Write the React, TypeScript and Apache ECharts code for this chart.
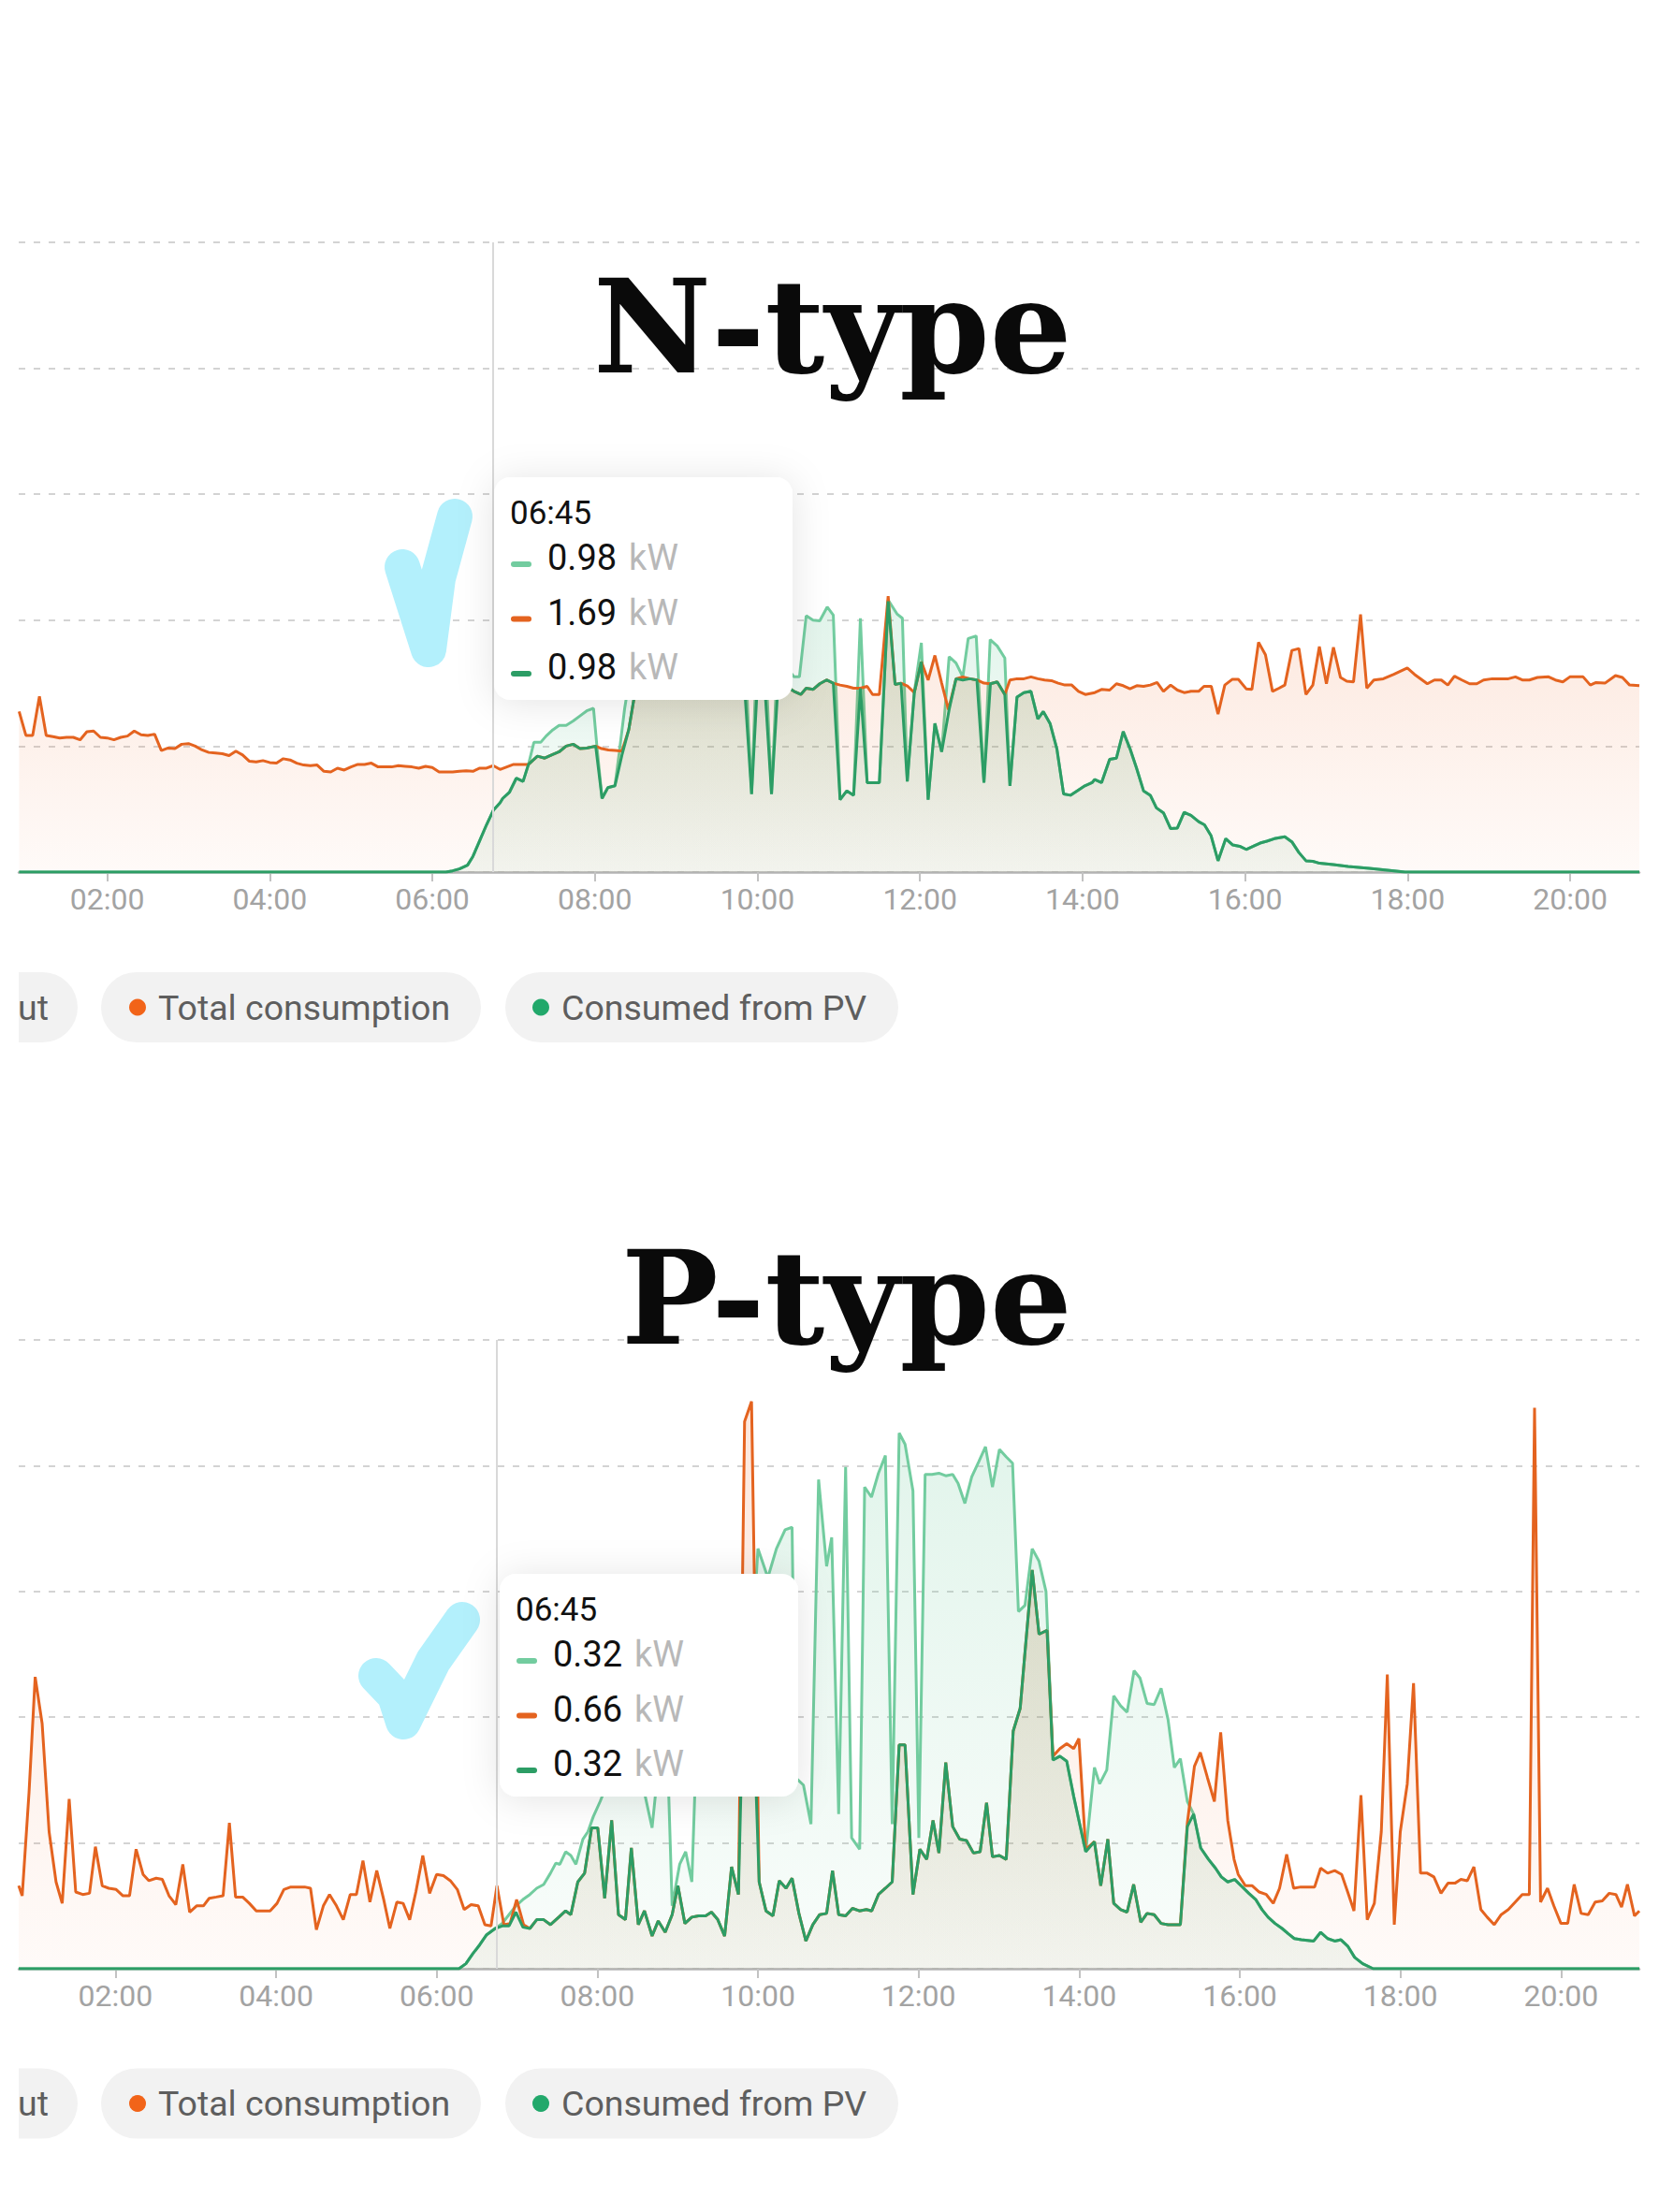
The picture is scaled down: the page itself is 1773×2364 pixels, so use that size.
import React, { useEffect, useRef } from "react";
import * as echarts from "echarts";

// ---------- data (minutes of day, kW) ----------
const hourTicks = [120, 240, 360, 480, 600, 720, 840, 960, 1080, 1200];
const seriesNames = ["PV output", "Total consumption", "Consumed from PV"];
const titles = ["N-type", "P-type"];
const tipTime = "06:45";
const nTip = ["0.98", "1.69", "0.98"];
const pTip = ["0.32", "0.66", "0.32"];

const nTotal: [number, number][] = [
  [55,2.55],[60,2.17],[65,2.17],[70,2.79],[75,2.17],[80,2.15],[85,2.13],[90,2.14],[95,2.14],[100,2.10],[105,2.23],[110,2.24],[115,2.14],[120,2.13],[125,2.10],[130,2.14],[135,2.16],[140,2.24],[145,2.18],[150,2.17],[155,2.19],[160,1.93],[165,1.97],[170,1.96],[175,2.03],[180,2.04],[185,2.00],[190,1.94],[195,1.90],[200,1.89],[205,1.88],[210,1.85],[215,1.92],[220,1.86],[225,1.76],[230,1.75],[235,1.77],[240,1.74],[245,1.73],[250,1.80],[255,1.78],[260,1.73],[265,1.70],[270,1.69],[275,1.70],[280,1.60],[285,1.59],[290,1.65],[295,1.62],[300,1.67],[305,1.71],[310,1.71],[315,1.73],[320,1.67],[325,1.67],[330,1.67],[335,1.69],[340,1.68],[345,1.67],[350,1.65],[355,1.68],[360,1.66],[365,1.59],[370,1.59],[375,1.59],[380,1.60],[385,1.61],[390,1.60],[395,1.65],[400,1.65],[405,1.69],[410,1.63],[415,1.67],[420,1.71],[425,1.71],[431,1.71],[437.6,1.84],[443,1.81],[448,1.86],[453.6,1.91],[458.8,2.0],[464,2.03],[469,1.96],[474,1.97],[480.6,2.0],[485,1.96],[490,1.94],[495,1.93],[500,1.92],[505,2.26],[510,2.9],[515,3.1],[520,3.0],[525,3.2],[530,3.1],[540,3.0],[550,3.2],[560,3.3],[570,3.1],[580,3.2],[590,3.1],[595.7,3.05],[600,3.0],[605,3.1],[610.4,3.0],[615,2.9],[621,2.95],[627,2.87],[632,2.82],[636,2.92],[641,2.90],[646,2.99],[651,3.05],[656,3.0],[661,2.97],[666,2.95],[671,2.92],[676,2.92],[681,2.95],[685,2.82],[690,2.82],[696.5,4.38],[701.6,2.98],[706,3.0],[711,2.95],[715.8,2.85],[721,3.34],[726,3.05],[731,3.44],[736,3.0],[741,2.58],[746.6,3.07],[751.6,3.10],[756.8,3.07],[762,3.05],[767.2,3.0],[772,2.99],[777,3.02],[782.6,2.82],[786.4,3.05],[791.6,3.07],[796.7,3.07],[801.9,3.1],[807,3.07],[812,3.05],[817,3.04],[822,3.0],[827,2.97],[832,2.97],[837,2.87],[842,2.82],[849,2.85],[854,2.90],[860,2.89],[865,2.99],[870,2.96],[875,2.91],[880,2.96],[885,2.95],[890,2.97],[895,3.01],[899.7,2.87],[905,2.97],[910,2.89],[915,2.85],[920,2.87],[925.7,2.87],[929.6,2.95],[935,2.95],[940,2.51],[945,2.97],[950.4,3.06],[955,3.06],[960.8,2.91],[965,2.90],[969.9,3.65],[975,3.45],[980.2,2.87],[985,2.92],[989.3,2.97],[994.5,3.52],[999.7,3.55],[1004.9,2.82],[1010,2.97],[1014.8,3.58],[1020,2.99],[1025.2,3.57],[1030.4,3.09],[1035,3.03],[1040,3.02],[1045.2,4.09],[1049.8,2.92],[1055,3.05],[1062,3.07],[1069.8,3.14],[1079.7,3.24],[1085,3.14],[1094.5,2.99],[1099.7,3.05],[1104.8,3.05],[1109.6,2.97],[1114.5,3.11],[1120,3.05],[1125.7,2.99],[1131,2.99],[1136,3.05],[1142.5,3.07],[1154.3,3.07],[1159.5,3.10],[1164.6,3.05],[1169.8,3.05],[1175.8,3.09],[1184,3.10],[1189,3.05],[1194.5,3.02],[1199.7,3.10],[1209.5,3.10],[1214.8,2.97],[1219,3.01],[1225.6,3.0],[1233.4,3.12],[1238.5,3.09],[1243.8,2.97],[1251,2.96]
];

const nSelf: [number, number][] = [
  [55,0],[370,0],[375,0.02],[380,0.05],[386,0.11],[390,0.25],[395,0.50],[400,0.75],[405,0.98],[410,1.10],[412,1.17],[417,1.27],[422,1.49],[427,1.44],[431,1.71],[437.6,1.84],[443,1.81],[448,1.86],[453.6,1.91],[458.8,2.0],[464,2.03],[469,1.96],[474,1.97],[480.6,2.0],[485.3,1.17],[489.6,1.34],[494.8,1.37],[500,1.86],[505,2.26],[510,2.9],[515,3.1],[520,3.0],[525,3.2],[530,3.1],[540,3.0],[550,3.2],[560,3.3],[570,3.1],[580,3.2],[590,3.1],[595.7,1.24],[600,3.0],[605,3.1],[610.4,1.24],[615,2.9],[621,2.95],[627,2.87],[632,2.82],[636,2.92],[641,2.90],[646,2.99],[651,3.05],[656,3.0],[661,1.15],[666,1.29],[671,1.22],[676,2.92],[681,1.42],[690,1.42],[696.5,4.3],[701.6,2.98],[706,3.0],[710.6,1.44],[715.8,2.85],[721,3.34],[726,1.15],[731,2.36],[736,1.91],[741.5,2.58],[746.6,3.07],[751.6,3.05],[756.8,3.07],[762,3.05],[767.2,1.42],[772,2.99],[777,3.02],[782.6,2.82],[786.4,1.37],[791.6,2.78],[796.7,2.85],[801.9,2.87],[807,2.43],[811,2.55],[816,2.36],[821,1.96],[826,1.24],[831,1.22],[836,1.29],[841.7,1.37],[847,1.42],[849,1.47],[854,1.42],[860,1.79],[865,1.81],[870,2.23],[875,1.96],[879.7,1.66],[885,1.29],[890,1.22],[894.5,1.02],[899.7,0.94],[905,0.69],[910,0.70],[915,0.95],[920,0.90],[925.7,0.80],[930,0.75],[934.8,0.58],[940,0.18],[945.7,0.53],[950.9,0.43],[956,0.41],[960.8,0.36],[966,0.41],[971,0.46],[976,0.49],[981.5,0.53],[989.3,0.56],[994.5,0.48],[999.7,0.31],[1004.9,0.18],[1010,0.17],[1015,0.14],[1025,0.12],[1036,0.09],[1051.7,0.06],[1070,0.02],[1078,0],[1251,0]
];

const nPV: [number, number][] = [
  [55,0],[370,0],[375,0.02],[380,0.05],[386,0.11],[390,0.25],[395,0.50],[400,0.75],[405,0.98],[410,1.10],[412,1.17],[417,1.27],[422,1.49],[427,1.44],[431,1.71],[435,2.06],[440,2.06],[444,2.16],[449,2.26],[453.6,2.33],[458.8,2.33],[464,2.40],[469,2.48],[474,2.56],[479,2.60],[481.5,2.0],[485.3,1.17],[489.6,1.34],[494.8,1.37],[498,1.9],[502,2.6],[505,3.0],[510,3.6],[520,3.8],[530,4.0],[540,3.7],[550,4.1],[560,4.3],[570,4.0],[580,4.2],[590,3.9],[595.7,1.24],[600,3.8],[605,3.9],[610.4,1.24],[615,3.5],[620,3.3],[627,3.10],[631,3.10],[636,4.07],[641,4.0],[646,3.99],[651.5,4.21],[656,4.08],[661,1.15],[666,1.29],[671,1.22],[676,4.03],[681,1.42],[690,1.42],[696.5,4.32],[703,4.1],[707,4.03],[710.6,1.44],[715.8,2.86],[721,3.64],[726,1.15],[731,2.36],[736,1.91],[741.5,3.42],[746.6,3.32],[751.6,3.10],[755.6,3.71],[761.5,3.75],[767.2,1.42],[771.8,3.69],[777,3.59],[782.6,3.40],[786.4,1.37],[791.6,2.78],[796.7,2.85],[801.9,2.87],[807,2.43],[811,2.55],[816,2.36],[821,1.96],[826,1.24],[831,1.22],[836,1.29],[841.7,1.37],[847,1.42],[849,1.47],[854,1.42],[860,1.79],[865,1.81],[870,2.23],[875,1.96],[879.7,1.66],[885,1.29],[890,1.22],[894.5,1.02],[899.7,0.94],[905,0.69],[910,0.70],[915,0.95],[920,0.90],[925.7,0.80],[930,0.75],[934.8,0.58],[940,0.18],[945.7,0.53],[950.9,0.43],[956,0.41],[960.8,0.36],[966,0.41],[971,0.46],[976,0.49],[981.5,0.53],[989.3,0.56],[994.5,0.48],[999.7,0.31],[1004.9,0.18],[1010,0.17],[1015,0.14],[1025,0.12],[1036,0.09],[1051.7,0.06],[1070,0.02],[1078,0],[1251,0]
];

const pTotal: [number, number][] = [
  [47.7,0.66],[50.3,0.58],[55.4,1.40],[60,2.32],[65.2,1.95],[70.4,1.09],[75.6,0.69],[80.2,0.52],[85.4,1.35],[90.3,0.61],[95.5,0.59],[100.6,0.60],[105,0.97],[110.1,0.66],[115,0.64],[120.5,0.63],[125.6,0.58],[130.5,0.58],[135.4,0.95],[140.6,0.75],[145,0.70],[150.4,0.72],[155,0.71],[160,0.58],[165.1,0.51],[170.3,0.83],[175.4,0.45],[180.6,0.50],[185.7,0.50],[190,0.56],[195.3,0.57],[200.4,0.58],[205.1,1.16],[209.7,0.57],[215,0.57],[220,0.52],[225.2,0.46],[230.4,0.46],[235.5,0.46],[240.7,0.52],[245.8,0.63],[251,0.65],[256.2,0.65],[261.3,0.65],[265.7,0.64],[270.1,0.31],[275.3,0.50],[279.9,0.59],[285.1,0.50],[290.2,0.39],[295.4,0.59],[300,0.59],[304.9,0.86],[310.1,0.53],[315.2,0.78],[320.4,0.55],[325,0.32],[330.2,0.53],[334.9,0.52],[339.8,0.39],[344.4,0.61],[349.6,0.90],[354.7,0.60],[359.9,0.75],[365,0.74],[370.2,0.70],[375.4,0.63],[380.5,0.47],[385.7,0.51],[391,0.50],[396,0.35],[400.6,0.34],[405,0.66],[410.2,0.35],[414.8,0.36],[419.7,0.55],[424.9,0.35],[429.6,0.32],[434.7,0.39],[439.9,0.39],[445,0.35],[451.2,0.41],[456.3,0.46],[460.2,0.43],[465.4,0.69],[470.5,0.76],[475.7,1.12],[480.3,1.12],[485.5,0.56],[490.7,1.18],[495.8,0.43],[501,0.39],[505.4,0.96],[510.6,0.35],[515.2,0.46],[520.9,0.26],[525.5,0.38],[530.7,0.29],[535.9,0.43],[540.2,0.66],[545.4,0.36],[550.6,0.41],[555.7,0.42],[560.9,0.42],[565.3,0.45],[570,0.39],[575.1,0.26],[580.3,0.81],[585.4,0.59],[590,4.35],[595.2,4.51],[600.9,0.69],[606,0.46],[611.2,0.42],[615.9,0.70],[621,0.64],[625.5,0.72],[630.6,0.44],[635.8,0.22],[641,0.35],[646.1,0.43],[651.3,0.44],[655.7,0.78],[660.3,0.43],[665.5,0.42],[670.6,0.48],[675.8,0.46],[681,0.47],[685,0.46],[690,0.59],[695.2,0.64],[700.3,0.69],[705.5,1.78],[709.9,1.78],[715.8,0.59],[721,0.95],[726.1,0.87],[730.8,1.18],[735.2,0.92],[740.3,1.64],[745.5,1.13],[750.7,1.03],[755.8,1.02],[761,0.92],[766,0.93],[770.8,1.32],[775.2,0.89],[780.4,0.90],[785.5,0.87],[790.7,1.89],[795.9,2.07],[799.7,2.54],[804.9,3.17],[810,2.66],[816,2.69],[820.4,1.69],[825.6,1.75],[830.7,1.79],[835.9,1.75],[839.8,1.83],[844.9,0.95],[851.4,1.01],[856.1,0.66],[861.4,1.03],[865.8,0.52],[871,0.47],[875.8,0.45],[880.7,0.67],[886,0.37],[890.7,0.44],[896,0.43],[901.2,0.36],[906.4,0.35],[911,0.35],[915.6,0.35],[920.8,1.16],[926.1,1.61],[930.5,1.72],[935.8,1.52],[941,1.33],[945.7,1.88],[951,1.18],[955.7,0.87],[958.8,0.75],[964.1,0.66],[969.3,0.66],[974.5,0.61],[979.8,0.59],[985,0.52],[989.7,0.64],[995,0.91],[1000.2,0.64],[1005.5,0.65],[1010.7,0.65],[1015.9,0.65],[1020.4,0.80],[1025.6,0.76],[1030.9,0.78],[1036.1,0.75],[1040.6,0.61],[1045.3,0.46],[1050.5,1.38],[1055.2,0.39],[1060.5,0.52],[1065.7,1.09],[1070.2,2.34],[1075.4,0.35],[1079.9,1.09],[1085.1,1.47],[1089.8,2.27],[1095,0.76],[1100,0.76],[1105,0.73],[1110.3,0.60],[1115.5,0.68],[1120.7,0.68],[1125.2,0.71],[1130,0.70],[1134.9,0.81],[1140.1,0.47],[1144.8,0.41],[1150.1,0.35],[1155.3,0.43],[1160.6,0.47],[1165.8,0.53],[1171,0.59],[1176.3,0.59],[1180.2,4.46],[1184.7,0.53],[1189.9,0.64],[1194.6,0.50],[1199.9,0.36],[1205,0.36],[1209.8,0.67],[1215,0.44],[1220.3,0.43],[1225.5,0.53],[1230.8,0.54],[1236,0.60],[1241,0.59],[1245.2,0.49],[1249.6,0.67],[1254.9,0.42],[1258.5,0.46]
];

const pSelf: [number, number][] = [
  [47.7,0],[376.6,0],[381.8,0.04],[387,0.12],[392.1,0.19],[397.3,0.27],[403.7,0.32],[408.9,0.34],[414,0.34],[419.2,0.45],[424.4,0.33],[429.6,0.32],[434.7,0.39],[439.9,0.39],[445,0.35],[451.2,0.41],[456.3,0.46],[460.2,0.43],[465.4,0.69],[470.5,0.76],[475.7,1.12],[480.3,1.12],[485.5,0.56],[490.7,1.18],[495.8,0.43],[501,0.39],[505.4,0.96],[510.6,0.35],[515.2,0.46],[520.9,0.26],[525.5,0.38],[530.7,0.29],[535.9,0.43],[540.2,0.66],[545.4,0.36],[550.6,0.41],[555.7,0.42],[560.9,0.42],[565.3,0.45],[570,0.39],[575.1,0.26],[580.3,0.81],[585.4,0.59],[590,2.6],[595.2,2.5],[600.9,0.69],[606,0.46],[611.2,0.42],[615.9,0.70],[621,0.64],[625.5,0.72],[630.6,0.44],[635.8,0.22],[641,0.35],[646.1,0.43],[651.3,0.44],[655.7,0.78],[660.3,0.43],[665.5,0.42],[670.6,0.48],[675.8,0.46],[681,0.47],[685,0.46],[690,0.59],[695.2,0.64],[700.3,0.69],[705.5,1.78],[709.9,1.78],[715.8,0.59],[721,0.95],[726.1,0.87],[730.8,1.18],[735.2,0.92],[740.3,1.64],[745.5,1.13],[750.7,1.03],[755.8,1.02],[761,0.92],[766,0.93],[770.8,1.32],[775.2,0.89],[780.4,0.90],[785.5,0.87],[790.7,1.89],[795.9,2.07],[799.7,2.54],[804.9,3.17],[810,2.66],[816,2.69],[820.4,1.66],[825.6,1.69],[830.7,1.65],[835.9,1.37],[841,1.12],[844.9,0.93],[851.4,1.01],[856.1,0.66],[861.4,1.03],[865.8,0.52],[871,0.47],[875.8,0.45],[880.7,0.67],[886,0.37],[890.7,0.44],[896,0.43],[901.2,0.36],[906.4,0.35],[911,0.35],[915.6,0.35],[920.8,1.13],[925.5,1.23],[930.8,0.96],[936.6,0.87],[941.8,0.80],[946.2,0.73],[951,0.69],[956.2,0.71],[960.9,0.66],[966.7,0.60],[971.9,0.55],[976.6,0.47],[981.1,0.41],[986.3,0.36],[991.6,0.32],[996,0.28],[1000.7,0.24],[1005.9,0.23],[1015.2,0.22],[1020.4,0.29],[1025.6,0.24],[1030.9,0.22],[1035.6,0.23],[1040.6,0.18],[1045.8,0.09],[1051.8,0.04],[1059.7,0],[1258.5,0]
];

const pPV: [number, number][] = [
  [47.7,0],[376.6,0],[381.8,0.04],[387,0.12],[392.1,0.19],[397.3,0.27],[403.7,0.32],[408.9,0.36],[414,0.43],[419.2,0.50],[424.4,0.55],[429.6,0.59],[434.7,0.64],[439.9,0.67],[445,0.76],[449,0.84],[452,0.83],[456.3,0.93],[460.2,0.90],[464,0.83],[469.2,1.03],[473,1.09],[477,1.21],[482.1,1.33],[484.7,1.40],[490,2.0],[495,2.5],[500,2.2],[505,2.7],[510,1.8],[515.2,1.40],[520.9,1.12],[525.5,1.6],[530.7,2.3],[535.9,0.50],[541.5,0.83],[546,0.93],[550.6,0.69],[556,2.4],[561,2.8],[566,2.6],[571,2.9],[576,2.5],[581,2.7],[585.4,2.2],[590,2.6],[595.2,2.5],[600,3.34],[607.4,3.11],[613.8,3.34],[620.3,3.49],[625.5,3.51],[628,1.52],[634,1.46],[639.6,1.15],[645.3,3.89],[651.3,3.20],[655.1,3.43],[660.3,1.23],[665.5,3.99],[670,1.04],[676,0.95],[679.7,3.83],[684.8,3.75],[690,3.94],[695.2,4.08],[700.3,1.15],[705.5,4.26],[709.9,4.17],[715.8,3.80],[720.2,1.04],[724.9,3.93],[730,3.93],[735.2,3.94],[740.3,3.92],[745.5,3.93],[749.5,3.86],[754.6,3.70],[759.7,3.91],[764.9,4.03],[770,4.15],[775.2,3.83],[780.4,4.13],[785.5,4.07],[790.2,4.02],[794.6,2.84],[799.5,2.89],[804.9,3.34],[810,3.24],[815.2,3.0],[820.4,1.66],[825.6,1.69],[830.7,1.65],[835.9,1.37],[841,1.12],[844.9,0.93],[851.4,1.60],[855.3,1.47],[860.6,1.58],[865.8,2.17],[871,2.09],[875.8,2.04],[881,2.37],[885.5,2.31],[890.7,2.11],[896,2.10],[901.2,2.23],[906.4,1.98],[911.1,1.60],[915.6,1.67],[920.8,1.33],[925.5,1.23],[930.8,0.96],[936.6,0.87],[941.8,0.80],[946.2,0.73],[951,0.69],[956.2,0.71],[960.9,0.66],[966.7,0.60],[971.9,0.55],[976.6,0.47],[981.1,0.41],[986.3,0.36],[991.6,0.32],[996,0.28],[1000.7,0.24],[1005.9,0.23],[1015.2,0.22],[1020.4,0.29],[1025.6,0.24],[1030.9,0.22],[1035.6,0.23],[1040.6,0.18],[1045.8,0.09],[1051.8,0.04],[1059.7,0],[1258.5,0]
];

// ---------- styling ----------
const C_PV = "#72cc9f";
const C_TOTAL = "#e4631f";
const C_SELF = "#2c9d65";
const UI_FONT = "Roboto";
const TOP_Z = 150;

const fmt = (m: number) => {
  const h = Math.floor(m / 60);
  const mm = Math.round(m % 60);
  return `${String(h).padStart(2, "0")}:${String(mm).padStart(2, "0")}`;
};

const grad = (top: string, bottom: string) =>
  new echarts.graphic.LinearGradient(0, 0, 0, 1, [
    { offset: 0, color: top },
    { offset: 1, color: bottom },
  ]);

const mkX = (gi: number, min: number, max: number) => ({
  type: "value",
  gridIndex: gi,
  min,
  max,
  axisLine: { show: true, onZero: false, lineStyle: { color: "#b3b3b3", width: 2.5 } },
  axisTick: { show: true, customValues: hourTicks, length: 10, lineStyle: { color: "#c2c2c2", width: 2 } },
  axisLabel: {
    show: true,
    customValues: hourTicks,
    formatter: (v: number) => fmt(v),
    color: "#a3a3a3",
    fontSize: 32,
    fontFamily: UI_FONT,
    margin: 13,
  },
  splitLine: { show: false },
});

const mkY = (gi: number, max: number, interval: number) => ({
  type: "value",
  gridIndex: gi,
  min: 0,
  max,
  interval,
  axisLine: { show: false },
  axisTick: { show: false },
  axisLabel: { show: false },
  splitLine: { show: true, lineStyle: { color: "#d3d3d3", width: 2, type: [7, 9] } },
});

const mkSeries = (name: string, data: [number, number][], gi: number, color: string, top: string, bottom: string, z: number, withMark: boolean) => ({
  type: "line",
  name,
  data,
  xAxisIndex: gi,
  yAxisIndex: gi,
  showSymbol: false,
  symbol: "none",
  silent: true,
  z,
  lineStyle: { color, width: 3 },
  itemStyle: { color },
  areaStyle: { color: grad(top, bottom) },
  markLine: withMark
    ? {
        silent: true,
        symbol: "none",
        label: { show: false },
        lineStyle: { color: "#d9d9d9", width: 2, type: "solid" },
        data: [{ xAxis: 405 }],
      }
    : undefined,
});

const tipBox = (x: number, y: number, vals: string[]) => {
  const cols = [C_PV, C_TOTAL, C_SELF];
  const out: any[] = [
    {
      type: "rect",
      z: TOP_Z,
      shape: { x, y, width: 319, height: 238, r: 18 },
      style: { fill: "#ffffff", shadowBlur: 40, shadowColor: "rgba(0,0,0,0.11)", shadowOffsetY: 3 },
    },
    {
      type: "text",
      z: TOP_Z + 1,
      x: x + 17,
      y: y + 38,
      style: { text: tipTime, fill: "#111111", fontSize: 35, fontFamily: UI_FONT, verticalAlign: "middle" },
    },
  ];
  vals.forEach((v, i) => {
    const ry = y + 86 + i * 58.5;
    out.push({
      type: "rect",
      z: TOP_Z + 1,
      shape: { x: x + 18, y: ry + 4, width: 22, height: 6, r: 3 },
      style: { fill: cols[i] },
    });
    out.push({
      type: "text",
      z: TOP_Z + 1,
      x: x + 57,
      y: ry,
      style: { text: v, fill: "#111111", fontSize: 38, fontFamily: UI_FONT, verticalAlign: "middle" },
    });
    out.push({
      type: "text",
      z: TOP_Z + 1,
      x: x + 144,
      y: ry,
      style: { text: "kW", fill: "#b8b8b8", fontSize: 38, fontFamily: UI_FONT, verticalAlign: "middle" },
    });
  });
  return out;
};

const legendRow = (cy: number) => {
  const txt = { fill: "#5e5e5e", fontSize: 37.5, fontFamily: UI_FONT, verticalAlign: "middle" };
  return [
    { type: "rect", z: TOP_Z, shape: { x: 20, y: cy - 37.5, width: 63, height: 75, r: [0, 37.5, 37.5, 0] }, style: { fill: "#f2f2f2" } },
    { type: "text", z: TOP_Z + 1, x: 52, y: cy, style: { ...txt, text: "ut", align: "right" } },
    { type: "rect", z: TOP_Z, shape: { x: 108, y: cy - 37.5, width: 406, height: 75, r: 37.5 }, style: { fill: "#f2f2f2" } },
    { type: "circle", z: TOP_Z + 1, shape: { cx: 147, cy, r: 9 }, style: { fill: "#f26419" } },
    { type: "text", z: TOP_Z + 1, x: 169, y: cy, style: { ...txt, text: seriesNames[1] } },
    { type: "rect", z: TOP_Z, shape: { x: 540, y: cy - 37.5, width: 420, height: 75, r: 37.5 }, style: { fill: "#f2f2f2" } },
    { type: "circle", z: TOP_Z + 1, shape: { cx: 578, cy, r: 9 }, style: { fill: "#22a86b" } },
    { type: "text", z: TOP_Z + 1, x: 600, y: cy, style: { ...txt, text: seriesNames[2] } },
  ];
};

const checkStyle = { stroke: "#b3f0fc", lineWidth: 38, lineCap: "round", lineJoin: "round", fill: null };

export default function App() {
  const ref = useRef<HTMLDivElement>(null);
  useEffect(() => {
    document.body.style.margin = "0";
    if (!ref.current) return;
    const chart = echarts.init(ref.current, undefined, { renderer: "svg" });
    const option: any = {
      animation: false,
      backgroundColor: "#ffffff",
      grid: [
        { left: 20, top: 259, width: 1732, height: 673, containLabel: false },
        { left: 20, top: 1432, width: 1732, height: 672, containLabel: false },
      ],
      xAxis: [mkX(0, 54.7, 1251), mkX(1, 47.7, 1258.5)],
      yAxis: [mkY(0, 10, 2), mkY(1, 5, 1)],
      series: [
        mkSeries(seriesNames[0], nPV, 0, C_PV, "rgba(114,204,159,0.30)", "rgba(114,204,159,0.06)", 2, true),
        mkSeries(seriesNames[1], nTotal, 0, C_TOTAL, "rgba(240,118,58,0.25)", "rgba(240,118,58,0.05)", 3, false),
        mkSeries(seriesNames[2], nSelf, 0, C_SELF, "rgba(70,115,55,0.14)", "rgba(70,115,55,0.05)", 4, false),
        mkSeries(seriesNames[0], pPV, 1, C_PV, "rgba(114,204,159,0.30)", "rgba(114,204,159,0.06)", 2, true),
        mkSeries(seriesNames[1], pTotal, 1, C_TOTAL, "rgba(240,118,58,0.25)", "rgba(240,118,58,0.05)", 3, false),
        mkSeries(seriesNames[2], pSelf, 1, C_SELF, "rgba(70,115,55,0.14)", "rgba(70,115,55,0.05)", 4, false),
      ],
      graphic: [
        {
          type: "text",
          z: TOP_Z,
          x: 634,
          y: 349,
          style: { text: titles[0], fill: "#0a0a0a", fontSize: 138, fontWeight: "bold", fontFamily: "DejaVu Serif", verticalAlign: "middle" },
        },
        {
          type: "text",
          z: TOP_Z,
          x: 664,
          y: 1387,
          style: { text: titles[1], fill: "#0a0a0a", fontSize: 138, fontWeight: "bold", fontFamily: "DejaVu Serif", verticalAlign: "middle" },
        },
        {
          type: "polyline",
          z: TOP_Z,
          shape: { points: [[430, 606], [458, 694], [468, 618], [486, 552]] },
          style: checkStyle,
        },
        {
          type: "polyline",
          z: TOP_Z,
          shape: { points: [[402, 1791], [422, 1812], [431, 1840], [463, 1775], [494, 1731]] },
          style: checkStyle,
        },
        ...tipBox(528, 510, nTip),
        ...tipBox(534, 1682, pTip),
        ...legendRow(1076.5),
        ...legendRow(2248),
      ],
    };
    chart.setOption(option);
    return () => chart.dispose();
  }, []);
  return (
    <div
      ref={ref}
      style={{ position: "absolute", left: 0, top: 0, width: 1773, height: 2364, background: "#ffffff" }}
    />
  );
}
